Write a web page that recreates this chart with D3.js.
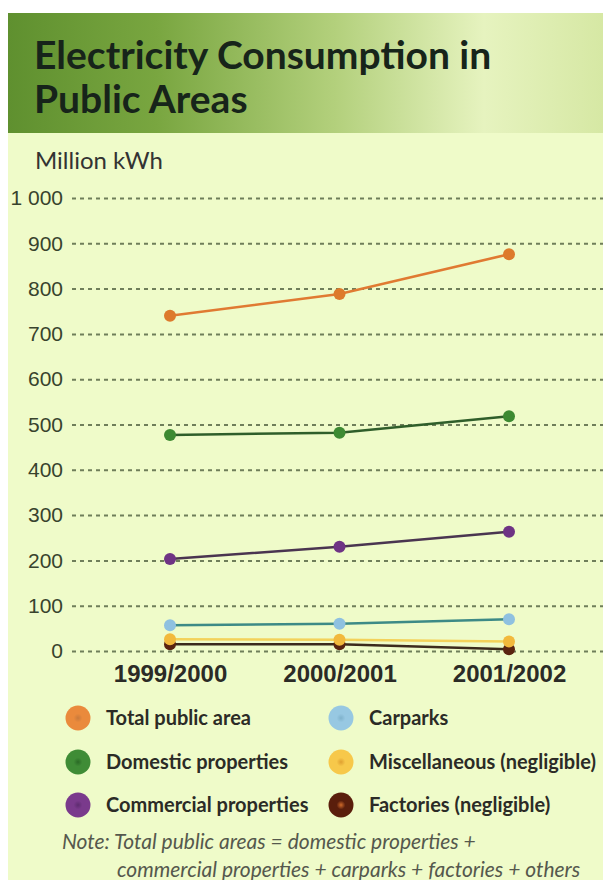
<!DOCTYPE html>
<html>
<head>
<meta charset="utf-8">
<script src="https://cdn.jsdelivr.net/npm/d3@7"></script>
<style>
  body { margin: 0; background: #fff; }
  svg { display: block; font-family: Lato, "Open Sans", sans-serif; }
  .grid line { stroke: #6f7e5a; stroke-width: 2; stroke-dasharray: 4,4; }
  .grid path { display: none; }
  .grid text { fill: #38432d; font-size: 21px; }
  .xaxis path, .xaxis line { display: none; }
  .xaxis text { fill: #2b2b26; font-size: 24px; font-weight: bold; }
  .legend text { fill: #2b2b26; font-size: 20px; font-weight: bold; }
</style>
</head>
<body>
<div id="chart"></div>
<script>
//data
var years = ["1999/2000", "2000/2001", "2001/2002"];
var totalArea = [740, 788, 876];
var domestic = [477, 482, 518];
var commercial = [203, 230, 263];
var carparks = [57, 60, 70];
var misc = [26, 25, 21];
var factories = [15, 15, 4];
var yTicks = [0, 100, 200, 300, 400, 500, 600, 700, 800, 900, 1000];
var yTickLabels = ["0", "100", "200", "300", "400", "500", "600", "700", "800", "900", "1 000"];

var series = [
  {name: "Total public area", values: totalArea, line: "#e07a32", dot: "#dd7a2c", key: "#ea8a3c", keyIn: "#c97a3c"},
  {name: "Domestic properties", values: domestic, line: "#2f5e2a", dot: "#3d8a32", key: "#3f8c36", keyIn: "#2a6a26"},
  {name: "Commercial properties", values: commercial, line: "#4a3550", dot: "#6e3384", key: "#7a3a8c", keyIn: "#5e2c70"},
  {name: "Carparks", values: carparks, line: "#3d8a86", dot: "#8fc1e0", key: "#97c8e2", keyIn: "#7fb2cc"},
  {name: "Miscellaneous (negligible)", values: misc, line: "#f3d25a", dot: "#f2b93c", key: "#f7c84a", keyIn: "#e0a030"},
  {name: "Factories (negligible)", values: factories, line: "#3b2a1c", dot: "#5a2410", key: "#5a1e0c", keyIn: "#d06a2a"}
];

var width = 603, height = 880;

var svg = d3.select("#chart")
  .append("svg")
  .attr("width", width)
  .attr("height", height);

var defs = svg.append("defs");

//header gradient
var grad = defs.append("linearGradient").attr("id", "head");
grad.append("stop").attr("offset", "0%").attr("stop-color", "#5f902f");
grad.append("stop").attr("offset", "25%").attr("stop-color", "#79a640");
grad.append("stop").attr("offset", "55%").attr("stop-color", "#b3d07c");
grad.append("stop").attr("offset", "80%").attr("stop-color", "#e6f3bf");
grad.append("stop").attr("offset", "100%").attr("stop-color", "#d6e8a4");

//radial fills for legend keys
series.forEach(function(s, i) {
  var r = defs.append("radialGradient").attr("id", "key" + i);
  r.append("stop").attr("offset", "0%").attr("stop-color", s.keyIn);
  r.append("stop").attr("offset", "35%").attr("stop-color", s.key);
  r.append("stop").attr("offset", "100%").attr("stop-color", s.key);
});

//background
svg.append("rect")
  .attr("x", 8).attr("y", 13)
  .attr("width", width - 8).attr("height", height - 13)
  .attr("fill", "#effbc9");

svg.append("rect")
  .attr("x", 8).attr("y", 13)
  .attr("width", width - 8).attr("height", 120)
  .attr("fill", "url(#head)");

//title
var title = svg.append("text")
  .attr("fill", "#17241a")
  .style("font-size", "39px")
  .style("font-weight", "bold");
title.append("tspan").attr("x", 34).attr("y", 69).text("Electricity Consumption in");
title.append("tspan").attr("x", 34).attr("y", 113).text("Public Areas");

svg.append("text")
  .attr("x", 35).attr("y", 169)
  .attr("fill", "#333")
  .style("font-size", "24px")
  .text("Million kWh");

//scales
var y = d3.scaleLinear()
  .domain([0, 1000])
  .range([651, 198]);

var x = d3.scalePoint()
  .domain(years)
  .range([170, 509]);

//grid lines with the y labels
var gridLeft = 72;
svg.append("g")
  .attr("class", "grid")
  .attr("transform", "translate(" + gridLeft + ",0)")
  .call(d3.axisLeft(y)
    .tickValues(yTicks)
    .tickFormat(function(d, i) { return yTickLabels[i]; })
    .tickSize(-(width - gridLeft)))
  .selectAll("text")
  .attr("x", -9);

//x labels
svg.append("g")
  .attr("class", "xaxis")
  .attr("transform", "translate(0,659)")
  .call(d3.axisBottom(x).tickSize(0).tickPadding(6));

//lines and points
var line = d3.line()
  .x(function(d, i) { return x(years[i]); })
  .y(function(d) { return y(d); });

var drawOrder = [5, 4, 3, 2, 1, 0];
drawOrder.forEach(function(k) {
  var s = series[k];
  var g = svg.append("g");
  g.append("path")
    .datum(s.values)
    .attr("fill", "none")
    .attr("stroke", s.line)
    .attr("stroke-width", 2.5)
    .attr("d", line);
  g.selectAll("circle")
    .data(s.values)
    .enter()
    .append("circle")
    .attr("cx", function(d, i) { return x(years[i]); })
    .attr("cy", function(d) { return y(d); })
    .attr("r", 6)
    .attr("fill", s.dot);
});

//legend
var legend = svg.append("g").attr("class", "legend");
var colX = [78, 341], rowY = [718, 762, 805];
series.forEach(function(s, i) {
  var cx = colX[Math.floor(i / 3)], cy = rowY[i % 3];
  legend.append("circle")
    .attr("cx", cx).attr("cy", cy).attr("r", 12.5)
    .attr("fill", "url(#key" + i + ")");
  legend.append("text")
    .attr("x", cx + 28).attr("y", cy + 7)
    .text(s.name);
});

//note
var note = svg.append("text")
  .attr("fill", "#55584d")
  .style("font-size", "21px")
  .style("font-style", "italic");
note.append("tspan").attr("x", 62).attr("y", 849).text("Note: Total public areas = domestic properties +");
note.append("tspan").attr("x", 117).attr("y", 877).text("commercial properties + carparks + factories + others");
</script>
</body>
</html>
